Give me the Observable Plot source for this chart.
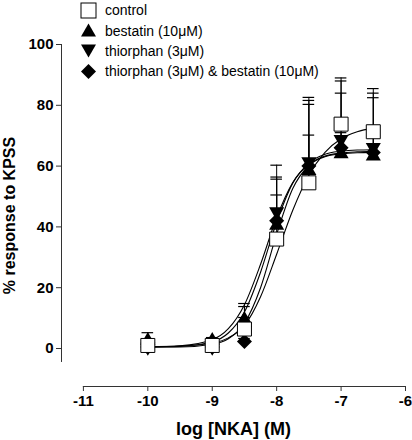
<!DOCTYPE html>
<html>
<head>
<meta charset="utf-8">
<script src="https://cdn.jsdelivr.net/npm/d3@7"></script>
<script src="https://cdn.jsdelivr.net/npm/@observablehq/plot@0.6"></script>
<style>
  html, body { margin: 0; padding: 0; background: #fff; }
  #wrap { position: relative; width: 412px; height: 440px; }
  #legend { position: absolute; left: 80px; top: 0px; font-family: "Liberation Sans", Arial, sans-serif; font-size: 14px; color: #000; }
  #legend .row { display: flex; align-items: center; height: 20.4px; }
  #legend svg { width: 17px; height: 17px; margin-right: 8px; }
</style>
</head>
<body>
<div id="wrap"><div id="chart"></div><div id="legend"></div></div>
<script>
// ---- data ----
const doses = [-10, -9, -8.5, -8, -7.5, -7, -6.5];
const controlMean   = [1, 1, 6.4, 36, 54.5, 73.8, 71.3];
const controlSem    = [0.5, 0.5, 3.8, 24.3, 28.1, 15.2, 14.2];
const bestatinMean  = [2.6, 2.6, 9.5, 40.5, 58.5, 64, 63.3];
const bestatinSem   = [2.6, 1, 5.3, 15.9, 21.8, 20, 19.2];
const thiorphanMean = [0.5, 0.5, 6, 45, 61.5, 68.8, 66.2];
const thiorphanSem  = [0.5, 0.5, 7.8, 10.7, 20.1, 19.2, 17.8];
const comboMean     = [0.5, 0.5, 2.3, 42, 60, 66, 64.5];
const comboSem      = [0.5, 0.5, 1, 8.5, 10.2, 5, 5];

// fitted curves
const curveX        = [-10, -9.5, -9, -8.75, -8.5, -8.25, -8, -7.75, -7.5, -7.25, -7, -6.75, -6.5];
const controlFit    = [0.6, 0.8, 1.8, 3.5, 7.5, 17, 31, 45.5, 57, 64.5, 69, 71.3, 72.5];
const bestatinFit   = [0.5, 0.9, 2.9, 6.5, 14.4, 27.7, 43.1, 54.6, 60.6, 63.3, 64.3, 64.7, 64.9];
const thiorphanFit  = [0.5, 0.7, 2.2, 5.1, 12.0, 25.1, 41.6, 54.4, 61.0, 63.9, 64.9, 65.3, 65.4];
const comboFit      = [0.5, 0.5, 1.4, 3.2, 8.3, 20.0, 37.6, 52.6, 60.2, 63.1, 64.0, 64.4, 64.5];

const seriesNames = ["control", "bestatin (10μM)", "thiorphan (3μM)", "thiorphan (3μM) & bestatin (10μM)"];
const xTicks = [-11, -10, -9, -8, -7, -6];
const xTickLabels = ["-11", "-10", "-9", "-8", "-7", "-6"];
const yTicks = [0, 20, 40, 60, 80, 100];

// ---- build tables ----
const means = [controlMean, bestatinMean, thiorphanMean, comboMean];
const sems = [controlSem, bestatinSem, thiorphanSem, comboSem];
const fits = [controlFit, bestatinFit, thiorphanFit, comboFit];
const points = [];
means.forEach((m, s) => doses.forEach((x, i) => points.push({series: s, x, y: m[i], top: m[i] + sems[s][i]})));
const curves = [];
fits.forEach((f, s) => curveX.forEach((x, i) => curves.push({series: s, x, y: f[i]})));

// symbols
const triUp = {draw(ctx, size) { const s = Math.sqrt(size * 4 / Math.sqrt(3)), h = s * Math.sqrt(3) / 2;
  ctx.moveTo(0, -2 * h / 3); ctx.lineTo(s / 2, h / 3); ctx.lineTo(-s / 2, h / 3); ctx.closePath(); }};
const triDown = {draw(ctx, size) { const s = Math.sqrt(size * 4 / Math.sqrt(3)), h = s * Math.sqrt(3) / 2;
  ctx.moveTo(0, 2 * h / 3); ctx.lineTo(s / 2, -h / 3); ctx.lineTo(-s / 2, -h / 3); ctx.closePath(); }};
const diamond = {draw(ctx, size) { const d = Math.sqrt(size * 2) / 2;
  ctx.moveTo(0, -d); ctx.lineTo(d, 0); ctx.lineTo(0, d); ctx.lineTo(-d, 0); ctx.closePath(); }};
const sqr = {draw(ctx, size) { const a = Math.sqrt(size) / 2; ctx.rect(-a, -a, 2 * a, 2 * a); }};

const xAxisAt = -11.34;   // where the vertical axis line sits
const yAxisAt = -12.5;    // where the horizontal axis line sits
const capHalf = 0.09;

const pick = s => points.filter(d => d.series === s);
const font = "Liberation Sans, Arial, sans-serif";

const chart = Plot.plot({
  width: 412, height: 440,
  marginLeft: 61, marginRight: 7, marginTop: 44, marginBottom: 54,
  x: {domain: [xAxisAt, -6]},
  y: {domain: [yAxisAt, 100]},
  style: {fontFamily: font, background: "white", color: "#000", overflow: "visible"},
  marks: [
    Plot.ruleX([xAxisAt], {y1: -4.6, y2: 100, stroke: "#333", strokeWidth: 1}),
    Plot.ruleY([yAxisAt], {x1: -11, x2: -6, stroke: "#333", strokeWidth: 1}),
    Plot.axisY({ticks: yTicks, tickFormat: d => String(d), tickSize: 5, tickPadding: 3, fontSize: 15, fontWeight: "bold", label: null, stroke: "#333"}),
    Plot.axisY({ticks: [], label: "% response to KPSS", labelAnchor: "center", labelArrow: "none", labelOffset: 58, fontSize: 16, fontWeight: "bold"}),
    Plot.axisX({ticks: xTicks, tickFormat: d => xTickLabels[xTicks.indexOf(d)], tickSize: 5, tickPadding: 4, fontSize: 15, fontWeight: "bold", label: null, stroke: "#333"}),
    Plot.axisX({ticks: [], label: "log [NKA] (M)", labelAnchor: "center", labelArrow: "none", labelOffset: 48, fontSize: 18, fontWeight: "bold"}),
    // error bars (upper)
    Plot.ruleX(points, {x: "x", y1: "y", y2: "top", stroke: "#000", strokeWidth: 1}),
    Plot.ruleY(points, {y: "top", x1: d => d.x - capHalf, x2: d => d.x + capHalf, stroke: "#000", strokeWidth: 1.2}),
    // fitted curves
    Plot.line(curves, {x: "x", y: "y", z: "series", curve: "monotone-x", stroke: "#000", strokeWidth: 1.1}),
    // markers
    Plot.dot(pick(3), {x: "x", y: "y", symbol: diamond, r: 6, fill: "#000", stroke: "none"}),
    Plot.dot(pick(1), {x: "x", y: "y", symbol: triUp, r: 5.6, fill: "#000", stroke: "none"}),
    Plot.dot(pick(2), {x: "x", y: "y", symbol: triDown, r: 5.6, fill: "#000", stroke: "none"}),
    Plot.dot(pick(0), {x: "x", y: "y", symbol: sqr, r: 7.9, fill: "#fff", stroke: "#000", strokeWidth: 1})
  ]
});
document.getElementById("chart").appendChild(chart);

// legend
const legendShapes = [
  '<rect x="1" y="1" width="15" height="15" fill="#fff" stroke="#000" stroke-width="1"/>',
  '<polygon points="8.5,1.5 16,14.5 1,14.5" fill="#000"/>',
  '<polygon points="1,2.5 16,2.5 8.5,15.5" fill="#000"/>',
  '<polygon points="8.5,1 16,8.5 8.5,16 1,8.5" fill="#000"/>'
];
const legend = document.getElementById("legend");
seriesNames.forEach((name, i) => {
  const row = document.createElement("div");
  row.className = "row";
  row.innerHTML = '<svg viewBox="0 0 17 17">' + legendShapes[i] + '</svg><span>' + name + '</span>';
  legend.appendChild(row);
});
</script>
</body>
</html>
